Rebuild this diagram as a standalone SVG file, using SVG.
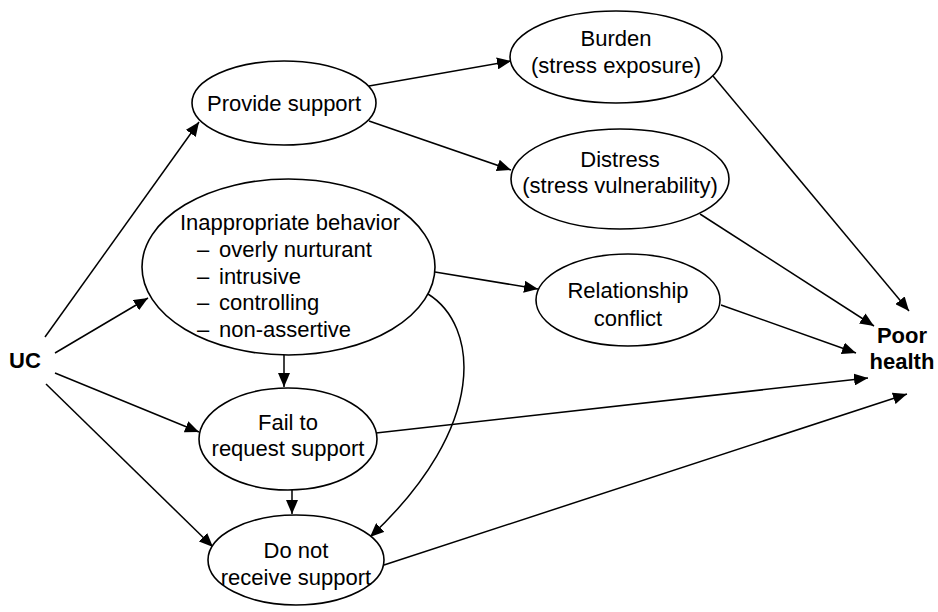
<svg xmlns="http://www.w3.org/2000/svg" width="938" height="612" viewBox="0 0 938 612">
  <style>
    .node ellipse { fill: #ffffff; stroke: #000000; stroke-width: 1.6; }
    .node text, .label { font-family: "Liberation Sans", Arial, sans-serif; font-size: 22px; fill: #000000; }
    .c { text-anchor: middle; }
    .bold { font-weight: bold; }
    #connectors path { fill: none; stroke: #000000; stroke-width: 1.5; marker-end: url(#arrow); }
  </style>
  <defs>
    <marker id="arrow" markerUnits="userSpaceOnUse" markerWidth="14" markerHeight="12" refX="14" refY="6" orient="auto">
      <path d="M0,0 L14,6 L0,12 Z" fill="#000000"/>
    </marker>
  </defs>
  <rect width="938" height="612" fill="#ffffff"/>

  <!-- connectors -->
  <g id="connectors">
    <path d="M45,337 L199,122"/>
    <path d="M55,353 L148,298"/>
    <path d="M55,373 L199,432"/>
    <path d="M46,384 L213,547"/>
    <path d="M369,86 L511,61"/>
    <path d="M369,121 L511,170"/>
    <path d="M713,76 L909,311"/>
    <path d="M700,214 L874,326"/>
    <path d="M435,272 L538,289"/>
    <path d="M721,305 L856,353"/>
    <path d="M376,433 L868,378"/>
    <path d="M384,565 L907,394"/>
    <path d="M284,355 L284,387"/>
    <path d="M292,490 L292,514"/>
    <path d="M428,294 C478,325 490,425 370,537"/>
  </g>

  <!-- nodes -->
  <g id="uc" class="node">
    <text class="bold" x="9" y="368">UC</text>
  </g>
  <g id="provide-support" class="node">
    <ellipse cx="284" cy="103" rx="92" ry="42"/>
    <text class="c" x="284" y="111">Provide support</text>
  </g>
  <g id="burden" class="node">
    <ellipse cx="616" cy="57" rx="106" ry="46"/>
    <text class="c" x="616" y="46">Burden</text>
    <text class="c" x="616" y="73">(stress exposure)</text>
  </g>
  <g id="distress" class="node">
    <ellipse cx="620" cy="179" rx="109" ry="50"/>
    <text class="c" x="620" y="167">Distress</text>
    <text class="c" x="620" y="193">(stress vulnerability)</text>
  </g>
  <g id="inappropriate-behavior" class="node">
    <ellipse cx="288.5" cy="267" rx="146.5" ry="88"/>
    <text class="c" x="290" y="230">Inappropriate behavior</text>
    <text x="197" y="257">–</text><text x="219" y="257">overly nurturant</text>
    <text x="197" y="284">–</text><text x="219" y="284">intrusive</text>
    <text x="197" y="310">–</text><text x="219" y="310">controlling</text>
    <text x="197" y="337">–</text><text x="219" y="337">non-assertive</text>
  </g>
  <g id="relationship-conflict" class="node">
    <ellipse cx="628" cy="300" rx="92" ry="46"/>
    <text class="c" x="628" y="298">Relationship</text>
    <text class="c" x="628" y="326">conflict</text>
  </g>
  <g id="fail-to-request" class="node">
    <ellipse cx="288" cy="439" rx="89" ry="51"/>
    <text class="c" x="288" y="430">Fail to</text>
    <text class="c" x="288" y="456">request support</text>
  </g>
  <g id="do-not-receive" class="node">
    <ellipse cx="296" cy="560" rx="88" ry="45"/>
    <text class="c" x="296" y="558">Do not</text>
    <text class="c" x="296" y="585">receive support</text>
  </g>
  <g id="poor-health" class="node">
    <text class="c bold" x="902" y="343">Poor</text>
    <text class="c bold" x="902" y="369">health</text>
  </g>
</svg>
